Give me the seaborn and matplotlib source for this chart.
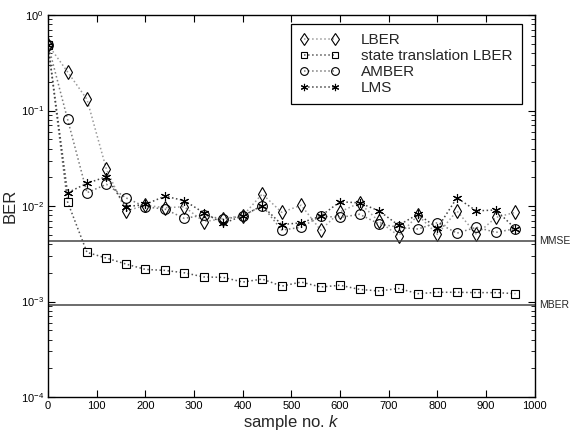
import numpy as np
import pandas as pd
import seaborn as sns
import matplotlib.pyplot as plt

# sample index k
k = list(range(0, 1000, 40))

lber = [0.49, 0.255, 0.131, 0.0242, 0.00887, 0.0102, 0.0096, 0.00984, 0.00685, 0.0074,
        0.0079, 0.0134, 0.0086, 0.0102, 0.0056, 0.0087, 0.0108, 0.0069, 0.0049, 0.0080,
        0.00505, 0.0089, 0.00505, 0.0076, 0.0086]
st_lber = [0.49, 0.0111, 0.00327, 0.00285, 0.00247, 0.00217, 0.00212, 0.0020, 0.00181, 0.00179,
           0.0016, 0.00172, 0.00145, 0.0016, 0.00142, 0.00148, 0.00134, 0.00129, 0.00137, 0.00121,
           0.00125, 0.00125, 0.00124, 0.00124, 0.00121]
amber = [0.49, 0.0815, 0.0138, 0.0169, 0.0122, 0.0098, 0.0093, 0.00743, 0.00805, 0.00726,
         0.0079, 0.0101, 0.0056, 0.0060, 0.00786, 0.0076, 0.0082, 0.0065, 0.0060, 0.00575,
         0.0067, 0.0052, 0.0060, 0.0053, 0.0058]
lms = [0.49, 0.0138, 0.0173, 0.0203, 0.00984, 0.0104, 0.0127, 0.0114, 0.0085, 0.00659,
       0.0079, 0.0101, 0.0064, 0.00668, 0.00786, 0.0111, 0.0108, 0.0089, 0.0063, 0.0082,
       0.0059, 0.0122, 0.0089, 0.0091, 0.0058]

mmse_ber = 0.00427
mber_ber = 0.00091

df = pd.DataFrame({'k': k, 'LBER': lber, 'state translation LBER': st_lber,
                   'AMBER': amber, 'LMS': lms})

sns.set_style('ticks')
plt.rcParams['font.family'] = ['Liberation Sans', 'DejaVu Sans']
plt.rcParams['mathtext.fontset'] = 'custom'
plt.rcParams['mathtext.rm'] = 'Liberation Sans'
plt.rcParams['mathtext.it'] = 'Liberation Sans:italic'

fig = plt.figure(figsize=(5.72, 4.32), dpi=100)
ax = fig.add_axes([0.084, 0.081, 0.851, 0.884])

styles = {
    'LBER': dict(marker='d', color='#9a9a9a', ms=7.5),
    'state translation LBER': dict(marker='s', color='#555555', ms=6),
    'AMBER': dict(marker='o', color='#7a7a7a', ms=7),
    'LMS': dict(marker=(6, 2, 0), color='#444444', ms=6.5),
}
for name, st in styles.items():
    sns.lineplot(data=df, x='k', y=name, ax=ax, label=name,
                 linestyle=':', linewidth=1.1, color=st['color'],
                 marker=st['marker'], markersize=st['ms'],
                 markerfacecolor='none', markeredgecolor='black',
                 markeredgewidth=0.8)

ax.axhline(mmse_ber, color='#444444', lw=1.1)
ax.axhline(mber_ber, color='#444444', lw=1.1)
ax.text(1.008, mmse_ber, 'MMSE', transform=ax.get_yaxis_transform(),
        va='center', ha='left', fontsize=7.5)
ax.text(1.008, mber_ber, 'MBER', transform=ax.get_yaxis_transform(),
        va='center', ha='left', fontsize=7.5)

ax.set_yscale('log')
ax.set_ylim(1e-4, 1)
ax.set_xlim(0, 1000)
ax.set_xticks(range(0, 1001, 100))
ax.tick_params(direction='in', which='both', top=True, right=True,
               labelsize=8, colors='black', pad=3)
ax.tick_params(which='major', length=5)
ax.tick_params(which='minor', length=3)
for s in ax.spines.values():
    s.set_color('black')
    s.set_linewidth(1.0)

ax.set_xlabel('sample no. $\\it{k}$', fontsize=12, labelpad=1)
ax.set_ylabel('BER', fontsize=12, labelpad=2)

leg = ax.legend(loc='upper right', bbox_to_anchor=(0.973, 0.976), numpoints=2,
                handlelength=2.6, fontsize=11, frameon=True, fancybox=False,
                edgecolor='black', framealpha=1, borderpad=0.6, markerscale=0.8,
                labelspacing=0.12, handletextpad=1.4, borderaxespad=0)
leg.get_frame().set_linewidth(0.9)

fig.savefig('out.png', dpi=100)
